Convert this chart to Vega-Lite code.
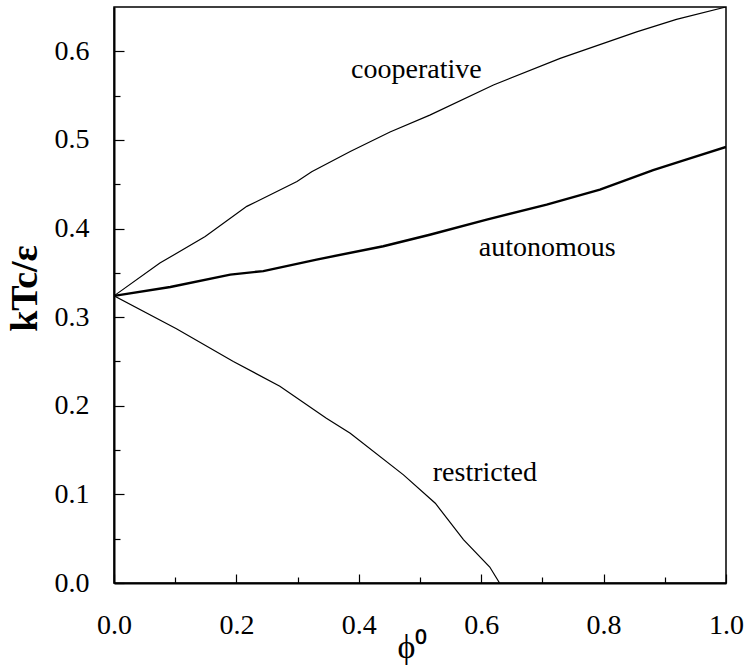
{
  "$schema": "https://vega.github.io/schema/vega-lite/v6.json",
  "width": 612,
  "height": 576,
  "autosize": {"type": "none"},
  "padding": {"left": 114, "top": 7, "right": 23, "bottom": 83},
  "background": "white",
  "config": {
    "view": {"stroke": "black", "strokeWidth": 1.5},
    "font": "Liberation Serif",
    "axis": {
      "grid": false,
      "domainColor": "black",
      "domainWidth": 2,
      "tickColor": "black",
      "tickWidth": 1.2,
      "labelColor": "black",
      "labelFont": "Liberation Serif",
      "labelFontSize": 28,
      "titleColor": "black",
      "titleFont": "Liberation Serif"
    }
  },
  "datasets": {
    "curves": [
      {"series": "cooperative", "phi": 0.0, "kT": 0.324},
      {"series": "cooperative", "phi": 0.075, "kT": 0.361},
      {"series": "cooperative", "phi": 0.149, "kT": 0.391},
      {"series": "cooperative", "phi": 0.217, "kT": 0.425},
      {"series": "cooperative", "phi": 0.299, "kT": 0.453},
      {"series": "cooperative", "phi": 0.323, "kT": 0.464},
      {"series": "cooperative", "phi": 0.386, "kT": 0.487},
      {"series": "cooperative", "phi": 0.451, "kT": 0.509},
      {"series": "cooperative", "phi": 0.516, "kT": 0.528},
      {"series": "cooperative", "phi": 0.62, "kT": 0.562},
      {"series": "cooperative", "phi": 0.729, "kT": 0.592},
      {"series": "cooperative", "phi": 0.854, "kT": 0.622},
      {"series": "cooperative", "phi": 0.919, "kT": 0.636},
      {"series": "cooperative", "phi": 1.0, "kT": 0.65},
      {"series": "autonomous", "phi": 0.0, "kT": 0.324},
      {"series": "autonomous", "phi": 0.092, "kT": 0.334},
      {"series": "autonomous", "phi": 0.19, "kT": 0.348},
      {"series": "autonomous", "phi": 0.244, "kT": 0.352},
      {"series": "autonomous", "phi": 0.331, "kT": 0.365},
      {"series": "autonomous", "phi": 0.44, "kT": 0.38},
      {"series": "autonomous", "phi": 0.516, "kT": 0.393},
      {"series": "autonomous", "phi": 0.609, "kT": 0.41},
      {"series": "autonomous", "phi": 0.707, "kT": 0.427},
      {"series": "autonomous", "phi": 0.794, "kT": 0.444},
      {"series": "autonomous", "phi": 0.881, "kT": 0.466},
      {"series": "autonomous", "phi": 0.936, "kT": 0.478},
      {"series": "autonomous", "phi": 1.0, "kT": 0.492},
      {"series": "restricted", "phi": 0.0, "kT": 0.324},
      {"series": "restricted", "phi": 0.102, "kT": 0.287},
      {"series": "restricted", "phi": 0.195, "kT": 0.25},
      {"series": "restricted", "phi": 0.271, "kT": 0.222},
      {"series": "restricted", "phi": 0.347, "kT": 0.186},
      {"series": "restricted", "phi": 0.386, "kT": 0.169},
      {"series": "restricted", "phi": 0.473, "kT": 0.122},
      {"series": "restricted", "phi": 0.525, "kT": 0.09},
      {"series": "restricted", "phi": 0.571, "kT": 0.049},
      {"series": "restricted", "phi": 0.614, "kT": 0.018},
      {"series": "restricted", "phi": 0.63, "kT": 0.0}
    ],
    "labels": [
      {"phi": 0.494, "kT": 0.579, "label": "cooperative"},
      {"phi": 0.708, "kT": 0.378, "label": "autonomous"},
      {"phi": 0.606, "kT": 0.124, "label": "restricted"}
    ]
  },
  "layer": [
    {
      "data": {"name": "curves"},
      "mark": {"type": "line", "color": "black", "clip": true},
      "encoding": {
        "x": {
          "field": "phi", "type": "quantitative",
          "scale": {"domain": [0, 1], "nice": false, "zero": false},
          "axis": {
            "title": "ϕ⁰",
            "titleFontSize": 34,
            "titleFontWeight": "normal",
            "titleX": 298,
            "titleY": 64,
            "titleBaseline": "middle",
            "values": [0, 0.1, 0.2, 0.3, 0.4, 0.5, 0.6, 0.7, 0.8, 0.9, 1.0],
            "labelExpr": "abs(datum.value*5 - round(datum.value*5)) > 0.01 ? '' : format(datum.value, '.1f')",
            "tickSize": {"condition": {"test": "abs(datum.value*5 - round(datum.value*5)) > 0.01", "value": -6}, "value": -9},
            "labelPadding": 37,
            "labelFlush": false,
            "labelOverlap": false
          }
        },
        "y": {
          "field": "kT", "type": "quantitative",
          "scale": {"domain": [0, 0.65], "nice": false, "zero": false},
          "axis": {
            "title": "kTc/ε",
            "titleFontSize": 38,
            "titleFontWeight": "bold",
            "titleX": -89,
            "titleY": 281,
            "titleAlign": "center",
            "titleBaseline": "middle",
            "values": [0, 0.05, 0.1, 0.15, 0.2, 0.25, 0.3, 0.35, 0.4, 0.45, 0.5, 0.55, 0.6],
            "labelExpr": "abs(datum.value*10 - round(datum.value*10)) > 0.01 ? '' : format(datum.value, '.1f')",
            "tickSize": {"condition": {"test": "abs(datum.value*10 - round(datum.value*10)) > 0.01", "value": -6}, "value": -10},
            "labelPadding": 35,
            "labelFlush": false,
            "labelOverlap": false
          }
        },
        "detail": {"field": "series"},
        "strokeWidth": {"condition": {"test": "datum.series === 'autonomous'", "value": 2.4}, "value": 1.2}
      }
    },
    {
      "data": {"name": "labels"},
      "mark": {"type": "text", "font": "Liberation Serif", "fontSize": 28, "color": "black", "align": "center", "baseline": "middle"},
      "encoding": {
        "x": {"field": "phi", "type": "quantitative"},
        "y": {"field": "kT", "type": "quantitative"},
        "text": {"field": "label"}
      }
    }
  ]
}
